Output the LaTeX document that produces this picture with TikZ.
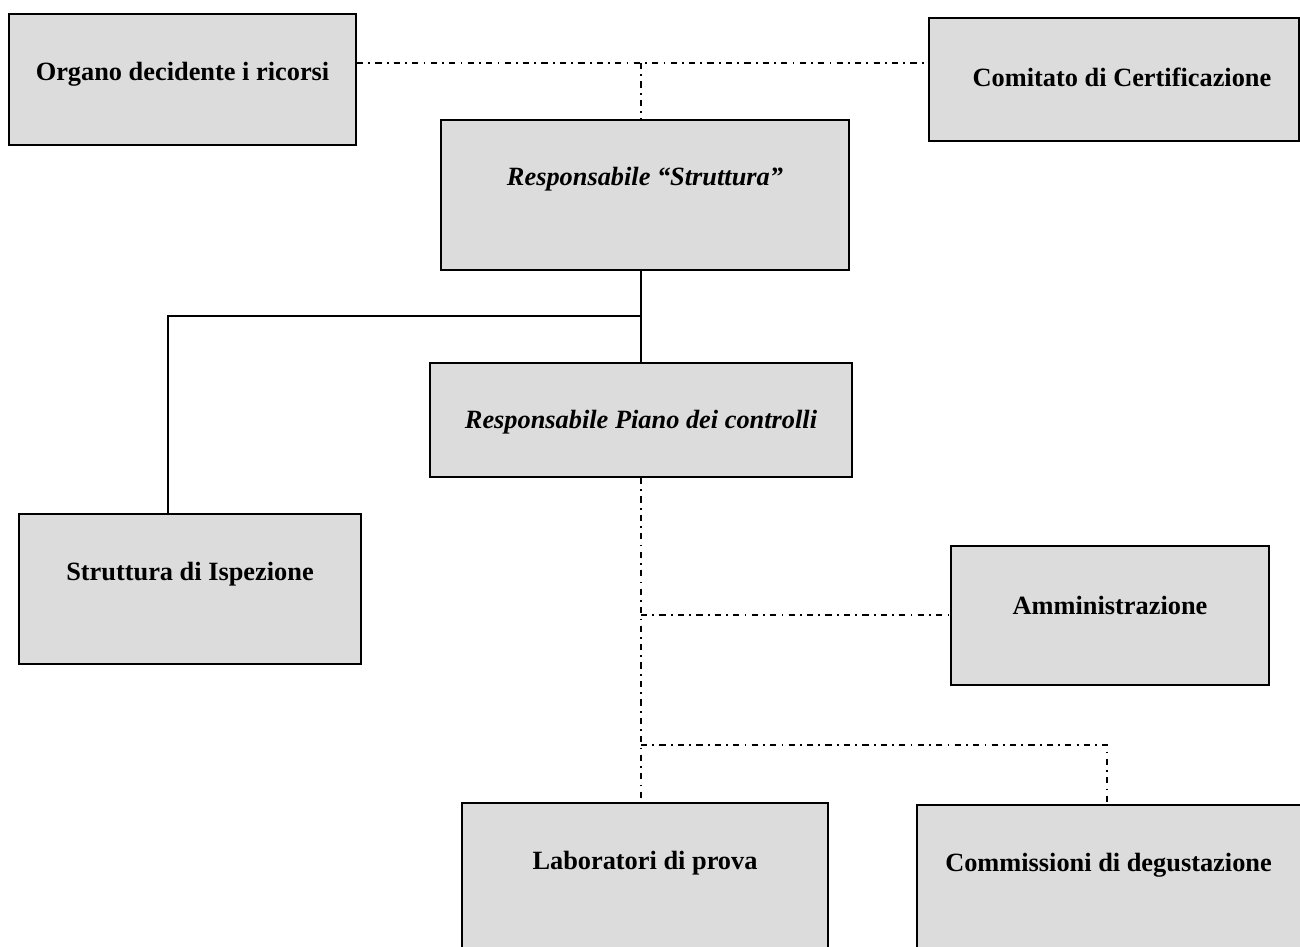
\documentclass[tikz,border=0pt]{standalone}
\usepackage{fontspec}
\setmainfont{Liberation Serif}
\definecolor{boxgray}{RGB}{220,220,220}
\begin{document}
\begin{tikzpicture}[x=0.02cm,y=-0.02cm,
  box/.style={draw=black,line width=1.1pt,fill=boxgray,rectangle,inner sep=0pt},
  lbl/.style={font=\fontsize{15}{18}\selectfont\bfseries,anchor=center,inner sep=0pt},
  ilbl/.style={font=\fontsize{15}{18}\selectfont\bfseries\itshape,anchor=center,inner sep=0pt},
  dd/.style={line width=0.75pt,dash pattern=on 3.5pt off 3pt on 1pt off 3pt},
  sl/.style={line width=0.8pt}]
\useasboundingbox (0,0) rectangle (1300,946);
\clip (0,0) rectangle (1300,946);
% boxes
\node[box,minimum width=347*0.02cm,minimum height=131*0.02cm,
  label={[lbl,yshift=5*0.02cm]center:Organo decidente i ricorsi}] (org) at (182.5,79.5) {};
\node[box,minimum width=370*0.02cm,minimum height=123*0.02cm,
  label={[lbl,yshift=2*0.02cm,xshift=8*0.02cm]center:Comitato di Certificazione}] (com) at (1114,79.5) {};
\node[box,minimum width=408*0.02cm,minimum height=150*0.02cm,
  label={[ilbl,yshift=15.5*0.02cm]center:Responsabile ``Struttura''}] (rs) at (645,195) {};
\node[box,minimum width=422*0.02cm,minimum height=114*0.02cm,
  label={[ilbl,yshift=-2*0.02cm]center:Responsabile Piano dei controlli}] (rp) at (641,420) {};
\node[box,minimum width=342*0.02cm,minimum height=150*0.02cm,
  label={[lbl,yshift=15*0.02cm]center:Struttura di Ispezione}] (si) at (190,589) {};
\node[box,minimum width=318*0.02cm,minimum height=139*0.02cm,
  label={[lbl,yshift=10.5*0.02cm]center:Amministrazione}] (am) at (1110,615.5) {};
\node[box,minimum width=366*0.02cm,minimum height=180*0.02cm,
  label={[lbl,yshift=29.5*0.02cm]center:Laboratori di prova}] (lab) at (645,893) {};
\node[box,minimum width=388*0.02cm,minimum height=178*0.02cm,
  label={[lbl,yshift=28.5*0.02cm,xshift=-2.5*0.02cm]center:Commissioni di degustazione}] (cd) at (1111,894) {};
% junction coordinates
\coordinate (t1) at (641,63);
\coordinate (j1) at (641,316);
\coordinate (k1) at (168,316);
\coordinate (j2) at (641,615);
\coordinate (j3) at (641,745);
\coordinate (k3) at (1107,745);
% dash-dot connectors
\draw[dd] (org.east |- t1) -- (com.west |- t1);
\draw[dd] (t1) -- (t1 |- rs.north);
\draw[dd] (j2 |- rp.south) -- (j2 |- lab.north);
\draw[dd] (j2) -- (am.west |- j2);
\draw[dd] (j3) -- (k3) -- (k3 |- cd.north);
% solid connectors
\draw[sl] (j1 |- rs.south) -- (j1 |- rp.north);
\draw[sl] (j1) -- (k1) -- (k1 |- si.north);
\end{tikzpicture}
\end{document}
